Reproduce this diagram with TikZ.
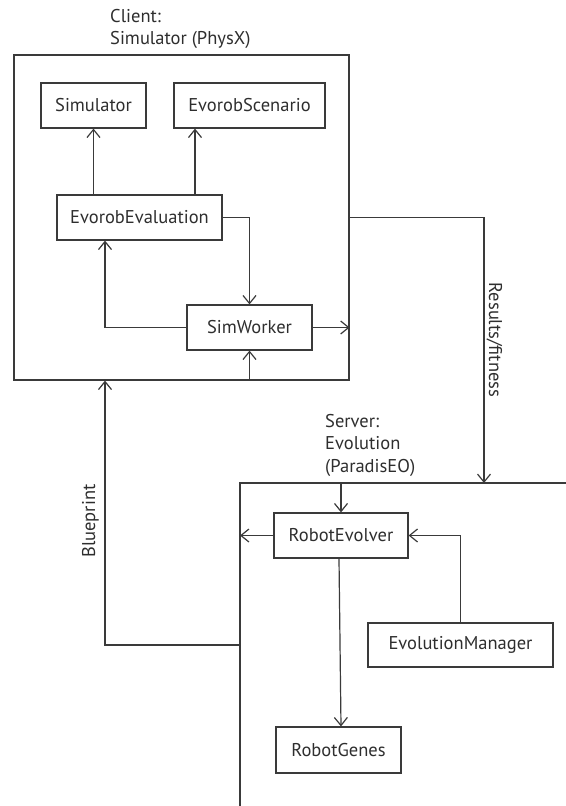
\documentclass[tikz,border=0pt]{standalone}
\usepackage{fontspec}
\setmainfont{PT Sans}
\usetikzlibrary{arrows.meta}
\definecolor{ln}{HTML}{3A3A3A}
\definecolor{tx}{HTML}{2E2E2E}
\tikzset{
  cls/.style={draw=ln, line width=1.2bp, text=tx, font=\fontsize{18.5bp}{23bp}\selectfont, inner sep=0pt, minimum height=45bp},
  lbl/.style={text=tx, font=\fontsize{18.5bp}{22.5bp}\selectfont, inner sep=0pt},
  conn/.style={draw=ln, line width=1.2bp},
  arr/.style={conn, -{Straight Barb[length=8bp,width=13bp,line width=1.2bp]}}
}
\begin{document}
\begin{tikzpicture}[x=1bp,y=-1bp]
\useasboundingbox (0,0) rectangle (566,806);
% client container
\node[conn, minimum width=335bp, minimum height=325bp, inner sep=0pt] (client) at (181.5,217.5) {};
\node[lbl, align=left, anchor=north west] (clientlbl) at (110,9) {Client:\\Simulator (PhysX)};
% client classes
\node[cls, minimum width=105bp] (sim) at (93.5,105.5) {Simulator};
\node[cls, minimum width=151bp] (scen) at (249.5,105.5) {EvorobScenario};
\node[cls, minimum width=165bp] (eval) at (139.5,217.5) {EvorobEvaluation};
\node[cls, minimum width=125bp] (simw) at (249.5,327.5) {SimWorker};
% helper coordinates
\coordinate (sx) at (195,0);
\coordinate (bx) at (105,0);
\coordinate (rx) at (484,483);
\coordinate (servtl) at (240,483);
\coordinate (servtr) at (566,483);
\coordinate (servbl) at (240,806);
\coordinate (bpstart) at (240,645);
% server container (open)
\draw[conn] (servtr) -- (servtl) -- (servbl);
\node[lbl, align=left, anchor=north west] (serverlbl) at (325,414) {Server:\\Evolution\\(ParadisEO)};
% server classes
\node[cls, minimum width=134bp] (robev) at (341,535.5) {RobotEvolver};
\node[cls, minimum width=185bp, minimum height=44bp] (evm) at (460.5,645) {EvolutionManager};
\node[cls, minimum width=125bp, minimum height=46bp] (genes) at (338.5,750) {RobotGenes};
% client connectors
\draw[arr] (sim.south |- eval.north) -- (sim.south);
\draw[arr] (eval.north -| sx) -- (scen.south -| sx);
\draw[arr] (eval.east) -| (simw.north);
\draw[arr] (simw.west) -| (eval.south -| bx);
\draw[arr] (simw.east) -- (simw.east -| client.east);
\draw[arr] (client.south -| simw.south) -- (simw.south);
% inter connectors
\draw[arr] (client.east |- eval.east) -| (rx);
\node[lbl, rotate=-90] (reslbl) at (494.5,340) {Results/fitness};
\draw[arr] (bpstart) -| (client.south -| bx);
\node[lbl, rotate=90] (bplbl) at (90.5,521) {Blueprint};
% server connectors
\draw[arr] (robev.north |- servtl) -- (robev.north);
\draw[arr] (robev.west) -- (robev.west -| servtl);
\draw[arr] (evm.north) |- (robev.east);
\draw[arr] ([xshift=-2bp]robev.south) -- ([xshift=2.5bp]genes.north);
\end{tikzpicture}
\end{document}
